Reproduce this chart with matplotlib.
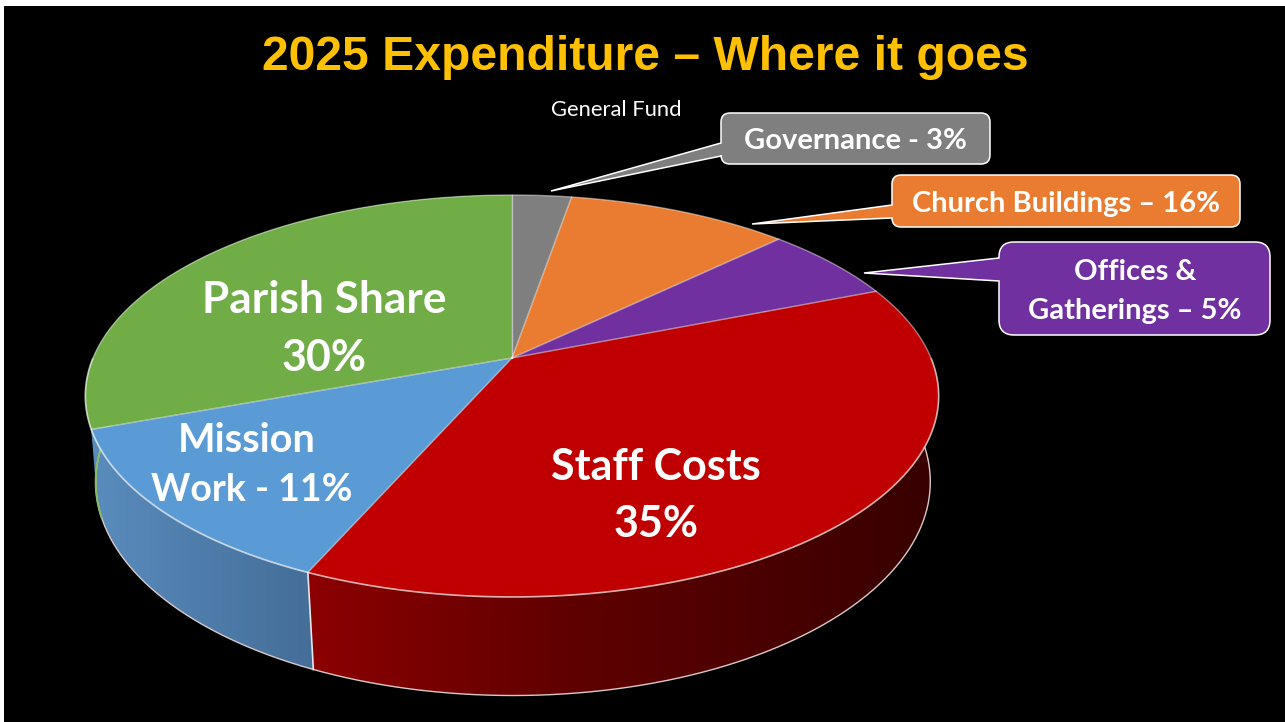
#!/usr/bin/env python3
"""Perspective pie of the 2025 general fund expenditure."""

import numpy as np
import matplotlib

matplotlib.use("Agg")
import matplotlib.pyplot as plt
from matplotlib.patches import PathPatch, Polygon, Rectangle
from matplotlib.path import Path

# clockwise from 12 o'clock, shares as drawn (not as labelled)
names = ["Governance", "Church Buildings", "Offices", "Staff Costs", "Mission Work", "Parish Share"]
drawn_shares = [2.7, 10.1, 6.2, 37.6, 12.8, 30.6]
top_colors = ["#7f7f7f", "#ea7c31", "#7030a0", "#c00000", "#5b9bd5", "#70ad47"]

# side wall shading, x pixel -> colour
wall_x = [90, 310, 560, 930]
wall_rgb = {
    "Staff Costs": [(0.55, 0, 0), (0.55, 0, 0), (0.38, 0, 0), (0.22, 0, 0)],
    "Mission Work": [(0.35, 0.55, 0.74), (0.27, 0.43, 0.60), (0.27, 0.43, 0.60), (0.27, 0.43, 0.60)],
    "Parish Share": [(0.40, 0.62, 0.25)] * 4,
}

title = "2025 Expenditure \u2013 Where it goes"
subtitle = "General Fund"
big_font = "Lato"

W, H = 1285, 722
CX, CY = 512.0, 358.0
A, B, P = 419.0, 193.8, 0.189
SX, SY, DX, DY = 0.978, 1.063, 1.0, 83.5
GREEN_OVERLAP = 5.0  # the blue wall runs a bit past its edge at the base, the sliver of green stays thin


def top_xy(t):
    """Unit circle angle (clockwise from top, degrees) to pixels on the top face."""
    t = np.radians(t)
    u, v = np.sin(t), np.cos(t)
    w = 1 + P * v
    return A * u / w, -B * v / w


def rim(t):
    x, y = top_xy(t)
    return CX + x, CY + y


def base(t):
    x, y = top_xy(t)
    return CX + SX * x + DX, CY + SY * y + DY


def callout(ax, box, tip, joints, radius, color):
    x0, y0, x1, y1 = box
    r = radius
    verts = [
        (x0 + r, y0), (x1 - r, y0), (x1, y0), (x1, y0 + r),
        (x1, y1 - r), (x1, y1), (x1 - r, y1), (x0 + r, y1),
        (x0, y1), (x0, y1 - r), (x0, joints[1]), tip, (x0, joints[0]),
        (x0, y0 + r), (x0, y0), (x0 + r, y0),
    ]
    codes = [
        Path.MOVETO, Path.LINETO, Path.CURVE3, Path.CURVE3,
        Path.LINETO, Path.CURVE3, Path.CURVE3, Path.LINETO,
        Path.CURVE3, Path.CURVE3, Path.LINETO, Path.LINETO, Path.LINETO,
        Path.LINETO, Path.CURVE3, Path.CURVE3,
    ]
    ax.add_patch(PathPatch(Path(verts, codes), facecolor=color, edgecolor="white", linewidth=1.1, zorder=6))


def main():
    fig = plt.figure(figsize=(W / 100, H / 100), dpi=100, facecolor="white")
    ax = fig.add_axes([0, 0, 1, 1])
    ax.add_patch(Rectangle((4, 6), W, H, facecolor="black", edgecolor="none", zorder=0))

    edges = np.cumsum([0] + drawn_shares) * 3.6

    # walls first, the top face hides whatever is behind it
    gx = np.arange(wall_x[0], wall_x[-1] + 1)
    for name, start, stop in zip(names, edges[:-1], edges[1:]):
        if name not in wall_rgb:
            continue
        stops = np.array(wall_rgb[name])
        grad = np.stack([np.interp(gx, wall_x, stops[:, i]) for i in range(3)], axis=-1)[np.newaxis, :, :]
        ts = np.linspace(start, stop, 200)
        base_stop = stop + GREEN_OVERLAP if name == "Mission Work" else stop
        rx, ry = rim(ts)
        bx, by = base(np.linspace(start, base_stop, 200))
        outline = Polygon(list(zip(rx, ry)) + list(zip(bx[::-1], by[::-1])), closed=True,
                          transform=ax.transData, facecolor="none", edgecolor="none")
        ax.add_patch(outline)
        zorder = 1.2 if name == "Mission Work" else 1
        im = ax.imshow(grad, extent=(gx[0], gx[-1], 722, 0), aspect="auto", zorder=zorder,
                       interpolation="bilinear")
        im.set_clip_path(outline)

    ax.set_xlim(0, W)
    ax.set_ylim(H, 0)
    ax.axis("off")

    ts = np.linspace(0, 360, 721)
    bx, by = base(ts)
    ax.plot(bx, by, color="#d8c8c8", linewidth=1.0, zorder=2)
    t = edges[4]
    ax.plot([rim(t)[0], base(t)[0]], [rim(t)[1], base(t)[1]], color="#e8e8e8", linewidth=1.2, zorder=2)
    # green edge along the left silhouette
    ax.plot(*base(np.linspace(edges[5], edges[5] + 22, 40)), color="#86bb60", linewidth=1.4, zorder=2.5)

    # top face
    for start, stop, color in zip(edges[:-1], edges[1:], top_colors):
        ts = np.linspace(start, stop, max(int(stop - start) * 2, 4))
        xs, ys = rim(ts)
        ax.add_patch(Polygon([(CX, CY)] + list(zip(xs, ys)), closed=True, facecolor=color,
                             edgecolor="none", zorder=3))
    for t in edges[:-1]:
        x, y = rim(t)
        ax.plot([CX, x], [CY, y], color="white", alpha=0.5, linewidth=1.0, zorder=4)
    back = np.concatenate([np.linspace(270, 360, 120), np.linspace(0, 90, 120)])
    front = np.linspace(90, 270, 240)
    ax.plot(*rim(back), color="white", alpha=0.45, linewidth=1.0, solid_capstyle="butt", zorder=4)
    ax.plot(*rim(front), color="white", alpha=0.7, linewidth=1.2, solid_capstyle="butt", zorder=4)

    callout(ax, (721, 113, 990, 164), (551, 191), (143, 156), 9, top_colors[0])
    callout(ax, (892, 175, 1240, 227), (752, 224), (205, 218), 9, top_colors[1])
    callout(ax, (999, 242, 1270, 335), (864, 273), (258, 281), 15, top_colors[2])

    ax.text(645, 58, title, color="#ffc000", fontsize=34.6, fontweight="bold",
            family="Liberation Sans", ha="center", va="center", zorder=8)
    ax.text(616, 110, subtitle, color="white", fontsize=15.8, family=big_font,
            ha="center", va="center", zorder=8)

    for text, x, y, size in [
        ("Governance - 3%", 855, 141, 21),
        ("Church Buildings \u2013 16%", 1066, 204, 21),
        ("Offices &", 1135, 272, 21),
        ("Gatherings \u2013 5%", 1135, 311, 21),
        ("Parish Share", 324, 300, 31.8),
        ("30%", 324, 358, 31),
        ("Staff Costs", 656, 467, 31),
        ("35%", 656, 524, 31),
        ("Mission", 247, 440, 28.5),
        ("Work - 11%", 252, 490, 27),
    ]:
        ax.text(x, y, text, color="white", fontsize=size, fontweight="bold", family=big_font,
                ha="center", va="center", zorder=8)

    fig.savefig("out.png", dpi=100, facecolor="white")
    plt.close(fig)


if __name__ == "__main__":
    main()
